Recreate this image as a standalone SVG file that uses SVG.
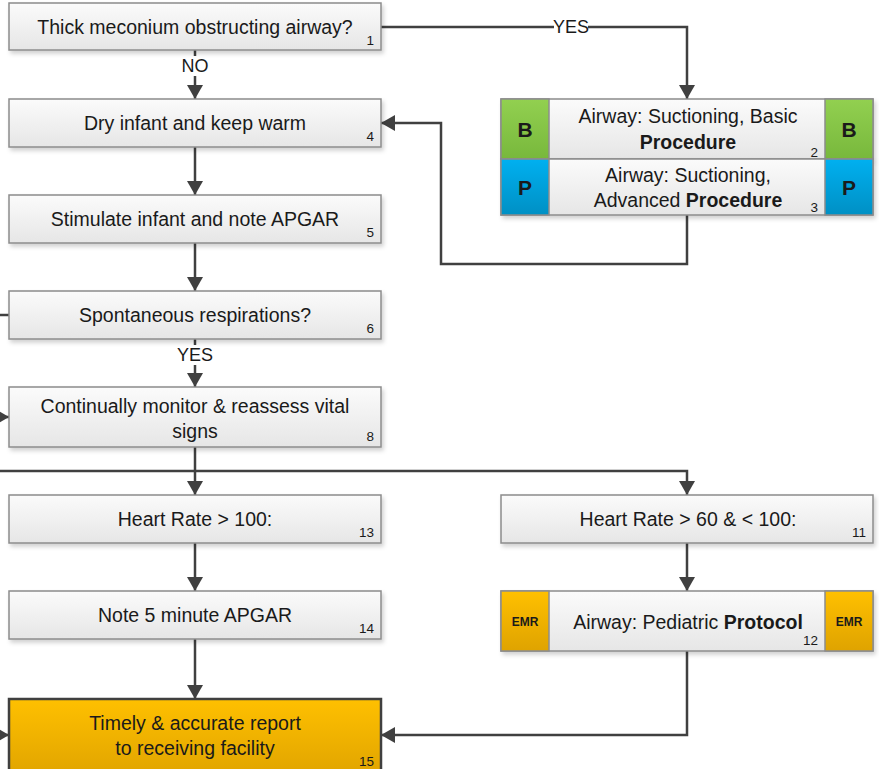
<svg xmlns="http://www.w3.org/2000/svg" width="879" height="769" viewBox="0 0 879 769">
  <defs>
    <linearGradient id="gGray" x1="0" y1="0" x2="0" y2="1">
      <stop offset="0" stop-color="#fbfbfb"/>
      <stop offset="1" stop-color="#e6e6e6"/>
    </linearGradient>
    <linearGradient id="gGreen" x1="0" y1="0" x2="0" y2="1">
      <stop offset="0" stop-color="#92d050"/>
      <stop offset="1" stop-color="#78b83c"/>
    </linearGradient>
    <linearGradient id="gBlue" x1="0" y1="0" x2="0" y2="1">
      <stop offset="0" stop-color="#00b0f0"/>
      <stop offset="1" stop-color="#0090c4"/>
    </linearGradient>
    <linearGradient id="gOrange" x1="0" y1="0" x2="0" y2="1">
      <stop offset="0" stop-color="#ffc000"/>
      <stop offset="1" stop-color="#dfa300"/>
    </linearGradient>
    <filter id="shadow" x="-5%" y="-10%" width="110%" height="130%">
      <feDropShadow dx="2" dy="3" stdDeviation="2" flood-color="#000" flood-opacity="0.18"/>
    </filter>
    <marker id="arrow" viewBox="0 0 14 16" refX="14" refY="8" markerWidth="14" markerHeight="16" markerUnits="userSpaceOnUse" orient="auto">
      <path d="M0,0 L14,8 L0,16 Z" fill="#404040"/>
    </marker>
  </defs>
  <style>
    .box { fill: url(#gGray); stroke: #8c8c8c; stroke-width: 1.5; filter: url(#shadow); }
    .green { fill: url(#gGreen); stroke: #8c8c8c; stroke-width: 1.5; }
    .blue { fill: url(#gBlue); stroke: #8c8c8c; stroke-width: 1.5; }
    .orange { fill: url(#gOrange); stroke: #8c8c8c; stroke-width: 1.5; }
    .final { fill: url(#gOrange); stroke: #404040; stroke-width: 2.5; }
    .t { font-family: "Liberation Sans", Arial, sans-serif; font-size: 19.5px; fill: #1a1a1a; text-anchor: middle; }
    .b { font-weight: bold; }
    .n { font-family: "Liberation Sans", Arial, sans-serif; font-size: 13.5px; fill: #1a1a1a; text-anchor: end; }
    .tag { font-family: "Liberation Sans", Arial, sans-serif; font-weight: bold; font-size: 21px; fill: #1a1a1a; text-anchor: middle; }
    .tagS { font-family: "Liberation Sans", Arial, sans-serif; font-weight: bold; font-size: 12px; fill: #1a1a1a; text-anchor: middle; }
    .lbl { font-family: "Liberation Sans", Arial, sans-serif; font-size: 18px; fill: #1a1a1a; text-anchor: middle; }
    .c { fill: none; stroke: #404040; stroke-width: 2.5; }
    .ca { fill: none; stroke: #404040; stroke-width: 2.5; marker-end: url(#arrow); }
  </style>

  <!-- connectors -->
  <g id="connectors">
    <path class="ca" d="M381,27 H687 V99"/>
    <path class="ca" d="M195,50 V99"/>
    <path class="ca" d="M687,215 V264 H441 V123 H381"/>
    <path class="ca" d="M195,147 V195"/>
    <path class="ca" d="M195,243 V291"/>
    <path class="c" d="M9,315 H0"/>
    <path class="ca" d="M195,339 V387"/>
    <path class="ca" d="M0,417 H9"/>
    <path class="ca" d="M195,447 V495"/>
    <path class="ca" d="M0,471 H687 V495"/>
    <path class="ca" d="M195,543 V591"/>
    <path class="ca" d="M195,639 V699"/>
    <path class="ca" d="M687,543 V591"/>
    <path class="ca" d="M687,651 V735 H381"/>
    <path class="ca" d="M0,735 H9"/>
    <!-- edge labels over a white backing -->
    <rect x="554" y="17" width="34" height="20" fill="#fff"/>
    <text class="lbl" x="571" y="33">YES</text>
    <rect x="178" y="56" width="34" height="20" fill="#fff"/>
    <text class="lbl" x="195" y="72">NO</text>
    <rect x="176" y="345" width="38" height="20" fill="#fff"/>
    <text class="lbl" x="195" y="361">YES</text>
  </g>

  <g id="node1">
    <rect class="box" x="9" y="3" width="372" height="47"/>
    <text class="t" x="195" y="34">Thick meconium obstructing airway?</text>
    <text class="n" x="374" y="45">1</text>
  </g>

  <g id="node2">
    <rect class="box" x="501" y="99" width="372" height="60"/>
    <rect class="green" x="501" y="99" width="48" height="60"/>
    <rect class="green" x="825" y="99" width="48" height="60"/>
    <text class="tag" x="525" y="137">B</text>
    <text class="tag" x="849" y="137">B</text>
    <text class="t" x="688" y="123">Airway: Suctioning, Basic</text>
    <text class="t b" x="688" y="149">Procedure</text>
    <text class="n" x="818" y="157">2</text>
  </g>

  <g id="node3">
    <rect class="box" x="501" y="159" width="372" height="56"/>
    <rect class="blue" x="501" y="159" width="48" height="56"/>
    <rect class="blue" x="825" y="159" width="48" height="56"/>
    <text class="tag" x="525" y="195">P</text>
    <text class="tag" x="849" y="195">P</text>
    <text class="t" x="688" y="182">Airway: Suctioning,</text>
    <text class="t" x="688" y="207">Advanced <tspan class="b">Procedure</tspan></text>
    <text class="n" x="818" y="212">3</text>
  </g>

  <g id="node4">
    <rect class="box" x="9" y="99" width="372" height="48"/>
    <text class="t" x="195" y="130">Dry infant and keep warm</text>
    <text class="n" x="374" y="141">4</text>
  </g>

  <g id="node5">
    <rect class="box" x="9" y="195" width="372" height="48"/>
    <text class="t" x="195" y="226">Stimulate infant and note APGAR</text>
    <text class="n" x="374" y="237">5</text>
  </g>

  <g id="node6">
    <rect class="box" x="9" y="291" width="372" height="48"/>
    <text class="t" x="195" y="322">Spontaneous respirations?</text>
    <text class="n" x="374" y="333">6</text>
  </g>

  <g id="node8">
    <rect class="box" x="9" y="387" width="372" height="60"/>
    <text class="t" x="195" y="413">Continually monitor &amp; reassess vital</text>
    <text class="t" x="195" y="438">signs</text>
    <text class="n" x="374" y="441">8</text>
  </g>

  <g id="node13">
    <rect class="box" x="9" y="495" width="372" height="48"/>
    <text class="t" x="195" y="526">Heart Rate &gt; 100:</text>
    <text class="n" x="374" y="537">13</text>
  </g>

  <g id="node11">
    <rect class="box" x="501" y="495" width="372" height="48"/>
    <text class="t" x="688" y="526">Heart Rate &gt; 60 &amp; &lt; 100:</text>
    <text class="n" x="866" y="537">11</text>
  </g>

  <g id="node14">
    <rect class="box" x="9" y="591" width="372" height="48"/>
    <text class="t" x="195" y="622">Note 5 minute APGAR</text>
    <text class="n" x="374" y="633">14</text>
  </g>

  <g id="node12">
    <rect class="box" x="501" y="591" width="372" height="60"/>
    <rect class="orange" x="501" y="591" width="48" height="60"/>
    <rect class="orange" x="825" y="591" width="48" height="60"/>
    <text class="tagS" x="525" y="626">EMR</text>
    <text class="tagS" x="849" y="626">EMR</text>
    <text class="t" x="688" y="629">Airway: Pediatric <tspan class="b">Protocol</tspan></text>
    <text class="n" x="818" y="645">12</text>
  </g>

  <g id="node15">
    <rect class="final" x="9" y="699" width="372" height="80"/>
    <text class="t" x="195" y="730">Timely &amp; accurate report</text>
    <text class="t" x="195" y="755">to receiving facility</text>
    <text class="n" x="374" y="766">15</text>
  </g>
</svg>
